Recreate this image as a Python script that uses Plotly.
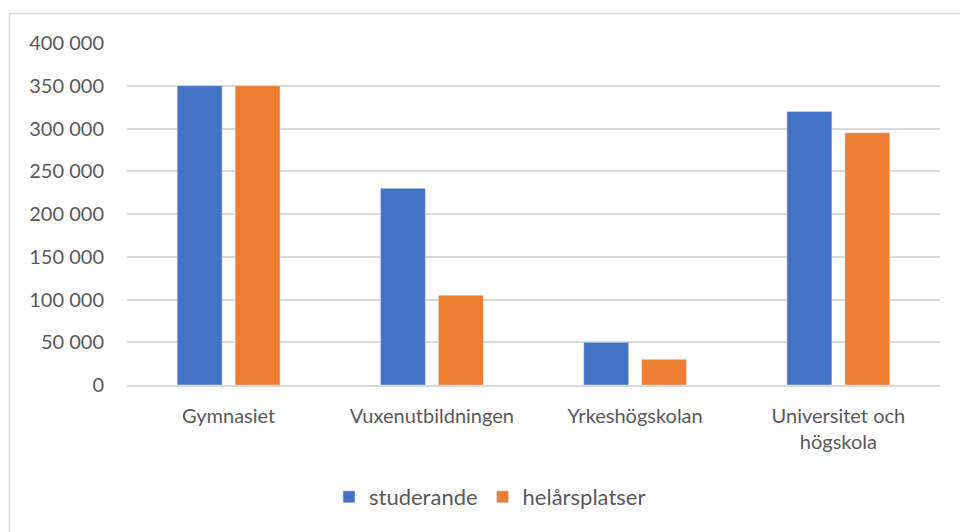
import plotly.graph_objects as go

categories = ["Gymnasiet", "Vuxenutbildningen", "Yrkeshögskolan", "Universitet och<br>högskola"]
studerande = [350000, 230000, 50000, 320000]
helarsplatser = [350000, 105000, 30000, 295000]
tick_vals = [0, 50000, 100000, 150000, 200000, 250000, 300000, 350000, 400000]

W, H = 960, 532
L, R, T, B = 127, 20, 43, 147
pw, ph = W - L - R, H - T - B

def px_x(x):
    return (x - L) / pw

def px_y(y):
    return (H - B - y) / ph

fig = go.Figure()
fig.add_trace(go.Bar(name="studerande", x=categories, y=studerande, marker_color="#4472C4"))
fig.add_trace(go.Bar(name="helårsplatser", x=categories, y=helarsplatser, marker_color="#ED7D31"))

font = "Lato, 'Open Sans', sans-serif"
fig.update_layout(
    width=W, height=H,
    margin=dict(l=L, r=R, t=T, b=B, pad=0),
    paper_bgcolor="white", plot_bgcolor="white",
    barmode="group", bargap=0.43, bargroupgap=0.224,
    separators=", ",
    font=dict(family=font, size=20, color="#595959"),
    showlegend=True,
    legend=dict(orientation="h", x=px_x(490), xanchor="center", y=px_y(497), yanchor="middle",
                font=dict(size=22, color="#595959"), itemwidth=30, traceorder="normal"),
    xaxis=dict(showgrid=False, showline=True, linecolor="#D9D9D9", linewidth=1.5,
               ticks="", ticklabelstandoff=12, tickfont=dict(size=20, color="#595959")),
    yaxis=dict(range=[0, 400000], tickvals=tick_vals, tickformat=",d", showgrid=True,
               gridcolor="#D9D9D9", gridwidth=1.5, zeroline=False, showline=False,
               ticks="", ticklabelstandoff=22, tickfont=dict(size=20, color="#595959")),
    shapes=[dict(type="rect", xref="paper", yref="paper",
                 x0=px_x(9.5), x1=px_x(975), y0=px_y(545), y1=px_y(13.5),
                 line=dict(color="#D9D9D9", width=1.5), layer="below")],
)

fig.write_html("out.html", config={"displayModeBar": False},
               post_script="document.body.style.margin='0';document.body.style.overflow='hidden';")
